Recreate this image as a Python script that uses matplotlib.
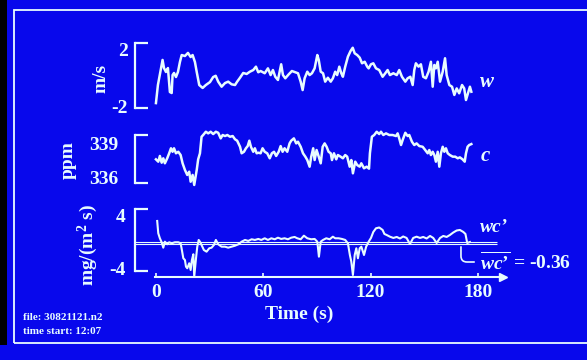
import matplotlib.pyplot as plt
import matplotlib.patches as patches

plt.rcParams['font.family'] = ['Liberation Serif', 'DejaVu Serif']
plt.rcParams['font.weight'] = 'bold'
plt.rcParams['axes.labelweight'] = 'bold'
plt.rcParams['mathtext.fontset'] = 'custom'
plt.rcParams['mathtext.rm'] = 'Liberation Serif:bold'
plt.rcParams['mathtext.it'] = 'Liberation Serif:italic:bold'
plt.rcParams['mathtext.bf'] = 'Liberation Serif:bold'

# vertical wind speed w (m/s)
w_time = [0, 1.1, 3.7, 4.5, 5.6, 6.7, 7.8, 8.8, 9.3, 10.1,
          11.2, 12.3, 13.4, 14.4, 16.2, 17.9, 19.4, 20.5, 21.8, 22.8,
          24.2, 26.1, 27.9, 30.2, 32.0, 33.4, 34.8, 36.7, 38.6, 40.4,
          42.3, 44.2, 45.4, 47.0, 48.8, 50.7, 52.5, 54.4, 55.9, 57.2,
          58.5, 60.8, 62.6, 64.1, 65.4, 66.7, 68.2, 70.0, 71.0, 72.3,
          74.2, 76.0, 77.9, 79.4, 80.9, 82.0, 83.1, 84.6, 85.9, 87.2,
          88.7, 90.2, 91.0, 92.1, 93.4, 94.6, 96.1, 97.7, 98.9, 100.2,
          101.3, 102.5, 103.6, 104.5, 105.8, 107.3, 108.8, 110.0, 111.1, 112.5,
          113.9, 115.2, 116.7, 118.1, 118.9, 120.2, 121.5, 123.0, 124.8, 126.7,
          128.2, 129.5, 130.8, 132.7, 134.6, 136.0, 137.5, 139.4, 140.7, 142.2,
          143.5, 144.4, 145.3, 146.8, 148.1, 149.4, 150.9, 152.4, 153.7, 154.7,
          155.6, 156.5, 157.5, 158.8, 160.3, 161.6, 162.5, 164.0, 165.5, 166.8,
          168.1, 169.5, 171.1, 172.3, 173.3, 174.4, 175.5, 176.3]
w_vals = [-1.79, -0.5, 1.29, 0.71, 0.43, 0.71, -1.0, -1.07, 0.21, 0.36,
          0.07, 0.43, 1.14, 1.64, 1.57, 1.79, 1.5, 1.64, 1.14, 0.43,
          -0.5, -0.71, -0.5, -0.29, 0.07, 0.16, -0.26, -0.62, -0.36, -0.26,
          -0.45, -0.5, -0.26, 0.02, 0.36, 0.29, 0.45, 0.57, 0.81, 0.41,
          0.5, 0.34, 0.69, 0.21, 0.57, 0.09, -0.14, 0.98, 0.21, -0.02,
          0.26, 0.5, 0.41, 0.34, -0.26, -0.86, -0.02, 0.45, 0.21, 0.34,
          0.69, 1.64, 1.29, 0.45, 0.34, -0.26, 0.02, -0.26, -0.02, 0.45,
          0.21, 0.81, 0.34, 0.09, 0.81, 1.52, 1.93, 2.16, 1.76, 1.64,
          1.45, 1.05, 1.16, 0.81, 0.69, 0.98, 1.05, 0.69, 0.57, 0.09,
          0.34, 0.57, 0.21, 0.34, 0.21, 0.57, 0.09, -0.26, -0.02, 0.09,
          -0.5, 0.57, 1.05, 0.81, 0.98, 0.09, -0.02, 0.45, 1.16, -0.62,
          0.93, 0.69, 1.16, -0.26, 0.45, 1.41, 0.21, -0.5, -0.62, -1.21,
          -0.74, -1.09, -0.5, -0.74, -1.57, -1.09, -0.62, -0.98]

# CO2 concentration c (ppm)
c_time = [0.0, 1.3, 2.2, 3.2, 4.1, 5.0, 6.3, 7.4, 8.4, 9.3,
          10.1, 11.2, 12.5, 13.8, 14.9, 16.2, 17.5, 18.6, 19.4, 20.5,
          21.4, 22.8, 23.6, 24.6, 25.5, 26.4, 27.9, 29.2, 30.6, 32.0,
          33.5, 34.8, 36.2, 37.3, 38.6, 39.9, 41.4, 42.9, 44.2, 45.4,
          47.0, 47.9, 49.2, 50.3, 51.3, 52.2, 53.1, 54.4, 55.3, 56.3,
          57.4, 58.5, 59.6, 60.8, 62.2, 63.6, 64.8, 66.0, 67.2, 68.6,
          69.7, 70.8, 71.9, 73.4, 74.7, 75.6, 77.1, 78.4, 79.4, 80.9,
          82.2, 83.5, 84.6, 85.9, 86.8, 87.9, 88.7, 89.8, 91.0, 92.1,
          93.2, 94.3, 95.4, 96.5, 97.7, 98.4, 99.5, 100.8, 101.7, 103.2,
          104.5, 105.8, 106.9, 108.3, 109.2, 110.1, 111.4, 112.5, 113.9, 114.8,
          116.3, 117.8, 119.1, 119.6, 120.7, 122.0, 123.4, 124.8, 125.8, 127.1,
          128.6, 130.4, 132.3, 134.2, 135.1, 136.0, 137.0, 137.9, 139.4, 140.7,
          141.6, 143.1, 144.4, 145.7, 147.2, 149.1, 150.5, 151.9, 152.8, 153.7,
          154.7, 155.6, 156.5, 157.5, 158.4, 159.3, 160.3, 161.2, 162.1, 163.1,
          164.3, 165.9, 167.3, 168.7, 169.9, 171.4, 172.6, 173.3, 174.2, 175.1,
          176.3]
c_vals = [337.60, 337.40, 337.89, 337.31, 337.69, 337.26, 337.69, 338.12, 338.55, 338.25,
          338.55, 338.12, 338.25, 337.97, 337.26, 336.69, 336.26, 336.54, 335.68, 336.26,
          335.40, 336.69, 337.60, 338.12, 339.54, 339.69, 339.97, 339.83, 339.97, 339.77,
          339.97, 339.88, 339.40, 339.69, 339.60, 339.69, 339.54, 339.60, 339.32, 339.20,
          338.68, 338.12, 338.25, 338.55, 338.74, 339.20, 338.68, 338.25, 338.55, 338.12,
          338.17, 338.12, 338.55, 338.25, 338.12, 337.69, 338.12, 338.25, 337.89, 338.25,
          338.74, 338.25, 338.55, 338.25, 338.97, 339.20, 339.40, 338.97, 339.11, 338.68,
          338.12, 337.83, 337.54, 336.97, 337.83, 338.55, 337.54, 338.40, 337.83, 337.26,
          338.68, 338.97, 338.68, 338.25, 338.12, 337.54, 338.12, 337.60, 337.97, 337.83,
          337.69, 337.97, 337.83, 336.97, 337.54, 336.40, 337.40, 337.11, 336.97, 337.26,
          336.83, 336.97, 336.80, 338.12, 339.54, 339.69, 339.97, 339.77, 339.97, 339.69,
          339.83, 339.69, 339.69, 339.60, 339.83, 339.40, 338.83, 339.26, 339.88, 339.60,
          339.69, 339.11, 338.83, 338.97, 338.74, 338.68, 338.40, 338.12, 338.40, 337.97,
          338.25, 337.97, 337.40, 338.25, 336.97, 338.12, 338.68, 338.25, 338.55, 338.12,
          337.97, 337.83, 337.83, 337.69, 337.77, 337.60, 337.40, 338.12, 338.68, 338.83,
          338.91]

# flux w'c' (mg/(m2 s))
wc_time = [0.7, 1.3, 2.2, 3.2, 4.1, 5.0, 6.3, 7.4, 8.8, 10.6,
           12.5, 13.8, 14.5, 15.3, 16.2, 16.8, 17.5, 18.6, 19.4, 20.1,
           20.9, 21.4, 22.4, 23.1, 23.9, 24.6, 25.5, 26.8, 28.3, 29.8,
           31.1, 32.4, 33.5, 34.8, 36.7, 38.6, 40.4, 42.3, 44.2, 46.1,
           47.9, 49.8, 51.6, 53.5, 55.3, 57.2, 58.9, 60.8, 62.6, 64.5,
           66.4, 68.2, 70.0, 71.9, 73.8, 75.6, 77.5, 79.0, 80.9, 82.7,
           84.6, 86.8, 88.7, 90.2, 91.1, 92.1, 93.4, 95.2, 97.1, 98.9,
           100.2, 102.1, 104.0, 105.8, 107.3, 108.4, 109.2, 110.1, 111.1, 112.0,
           112.9, 113.9, 114.8, 116.3, 117.5, 118.9, 120.2, 121.5, 123.0, 124.8,
           126.7, 127.7, 129.0, 130.8, 132.7, 134.6, 136.4, 138.2, 140.1, 142.0,
           143.8, 145.7, 147.6, 149.4, 151.3, 153.2, 155.0, 156.9, 158.8, 160.6,
           162.5, 164.3, 166.2, 168.1, 169.9, 171.8, 173.0, 174.0, 175.5]
wc_vals = [3.11, 1.26, 0.51, -0.09, -0.90, 0.0, -0.39, -0.09, -0.24, -0.09,
           -0.09, -0.24, -1.25, -2.49, -2.75, -3.75, -3.99, -3.24, -4.25, -2.75,
           -1.89, -5.26, -2.49, -0.75, 0.26, 0.0, -0.5, -1.25, -1.5, -0.99,
           -0.9, -0.5, 0.26, -0.39, -0.75, -0.75, -0.9, -0.75, -0.6, -0.39,
           0.0, 0.26, 0.11, 0.36, 0.26, 0.41, 0.26, 0.51, 0.26, 0.51,
           0.36, 0.6, 0.41, 0.51, 0.36, 0.6, 0.71, 0.51, 0.36, 0.9,
           0.51, 0.36, 0.41, 0.0, -2.25, 0.0, 0.26, 0.51, 0.36, 0.75,
           0.51, 0.51, 0.41, 0.26, -0.24, -2.0, -3.0, -5.0, -2.0, -0.99,
           -2.49, -0.99, -0.75, -2.0, -0.75, 0.0, 0.56, 1.46, 2.01, 2.13,
           1.76, 1.16, 1.0, 0.75, 0.56, 0.71, 0.48, 0.78, 0.56, -0.35,
           0.56, 0.75, 0.56, 0.71, 0.48, 0.86, 0.56, -0.2, 0.56, 0.86,
           0.71, 1.0, 1.38, 1.68, 1.76, 1.46, 1.16, -0.2, -0.05]
wc_mean = -0.36

time_ticks = [0, 60, 120, 180]
w_ticks = [-2, 2]
c_ticks = [336, 339]
wc_ticks = [-4, 4]

bg = '#0808ec'
fg = '#e8fcff'
xmin, xmax = -11.7, 197.9

fig = plt.figure(figsize=(5.87, 3.6), dpi=100, facecolor=bg)

# dark strip at the left of the photo, and the white frame of the slide
fig.add_artist(patches.Rectangle((0, 0.042), 0.012, 0.958, transform=fig.transFigure,
                                 facecolor='black', edgecolor='none', zorder=0))
fig.add_artist(patches.Rectangle((0.0239, 0.0472), 1.0, 0.925, transform=fig.transFigure,
                                 fill=False, edgecolor=fg, lw=1.3))

ax1 = fig.add_axes([0.2300, 0.7000, 0.6388, 0.1806])
ax2 = fig.add_axes([0.2300, 0.4917, 0.6388, 0.1333])
ax3 = fig.add_axes([0.2300, 0.2306, 0.6388, 0.1889])

ax1.plot(w_time, w_vals, color=fg, lw=1.8, clip_on=False)
ax2.plot(c_time, c_vals, color=fg, lw=1.8, clip_on=False)
ax3.hlines([0, wc_mean], xmin, 190.6, color=fg, lw=0.8)
ax3.plot(wc_time, wc_vals, color=fg, lw=1.5, clip_on=False)

ax1.set_ylim(-2.14, 2.5)
ax2.set_ylim(335.57, 339.69)
ax3.set_ylim(-5.30, 4.91)

ax1.set_yticks(w_ticks)
ax2.set_yticks(c_ticks)
ax3.set_yticks(wc_ticks)
# the bracket ends
ax1.set_yticks([-2.14, 2.5], minor=True)
ax2.set_yticks([335.57, 339.69], minor=True)
ax3.set_yticks([-4.40, 4.91], minor=True)
ax3.spines['left'].set_bounds(-4.40, 4.91)

pads = [5, 12, 6.5]
for ax, pad in zip((ax1, ax2, ax3), pads):
    ax.set_facecolor('none')
    ax.set_xlim(xmin, xmax)
    ax.spines['top'].set_visible(False)
    ax.spines['right'].set_visible(False)
    ax.spines['left'].set_color(fg)
    ax.spines['left'].set_linewidth(1.6)
    ax.tick_params(axis='y', which='major', length=0, pad=pad, labelsize=14, labelcolor=fg)
    ax.tick_params(axis='y', which='minor', direction='in', length=9.5, width=1.6, color=fg)

for ax in (ax1, ax2):
    ax.spines['bottom'].set_visible(False)
    ax.set_xticks([])

ax1.set_yticklabels(['-2', '2'])
ax3.set_yticklabels(['-4', '4'])

# time axis with arrow
ax3.spines['bottom'].set_color(fg)
ax3.spines['bottom'].set_linewidth(1.5)
ax3.spines['bottom'].set_bounds(-0.6, 193)
ax3.plot([194], [-5.30], marker='>', color=fg, markersize=6, clip_on=False)
ax3.set_xticks(time_ticks)
ax3.tick_params(axis='x', direction='in', length=3, width=1.2, color=fg,
                labelcolor=fg, labelsize=14, pad=5)
ax3.set_xlabel('Time (s)', fontsize=14, color=fg)
ax3.xaxis.set_label_coords(0.437, -0.426)

ax1.set_ylabel('m/s', fontsize=14, color=fg)
ax1.yaxis.set_label_coords(-0.069, 0.46)
ax2.set_ylabel('ppm', fontsize=14, color=fg)
ax2.yaxis.set_label_coords(-0.155, 0.48)
ax3.set_ylabel('mg/(m$^2$ s)', fontsize=14, color=fg)
ax3.yaxis.set_label_coords(-0.093, 0.47)

ax1.text(185, -0.25, 'w', color=fg, fontsize=15, style='italic', ha='center', va='center')
ax2.text(183.9, 337.9, 'c', color=fg, fontsize=15, style='italic', ha='center', va='center')
ax3.text(188.9, 2.2, 'wc\u2019', color=fg, fontsize=14, style='italic', ha='center', va='center')
ax3.annotate('$\\overline{wc\u2019}$ = -0.36', xy=(170.5, wc_mean), xytext=(181, -3.05),
             color=fg, fontsize=14, ha='left', va='center', annotation_clip=False,
             arrowprops=dict(arrowstyle='-', color=fg, lw=1.2, relpos=(0, 0.5),
                             connectionstyle='angle,angleA=0,angleB=90,rad=6'))

fig.text(23 / 587, 1 - 318 / 360, 'file: 30821121.n2', fontsize=8, color=fg, va='center')
fig.text(23 / 587, 1 - 332 / 360, 'time start: 12:07', fontsize=8, color=fg, va='center')

fig.savefig('out.png', dpi=100, facecolor=bg)
